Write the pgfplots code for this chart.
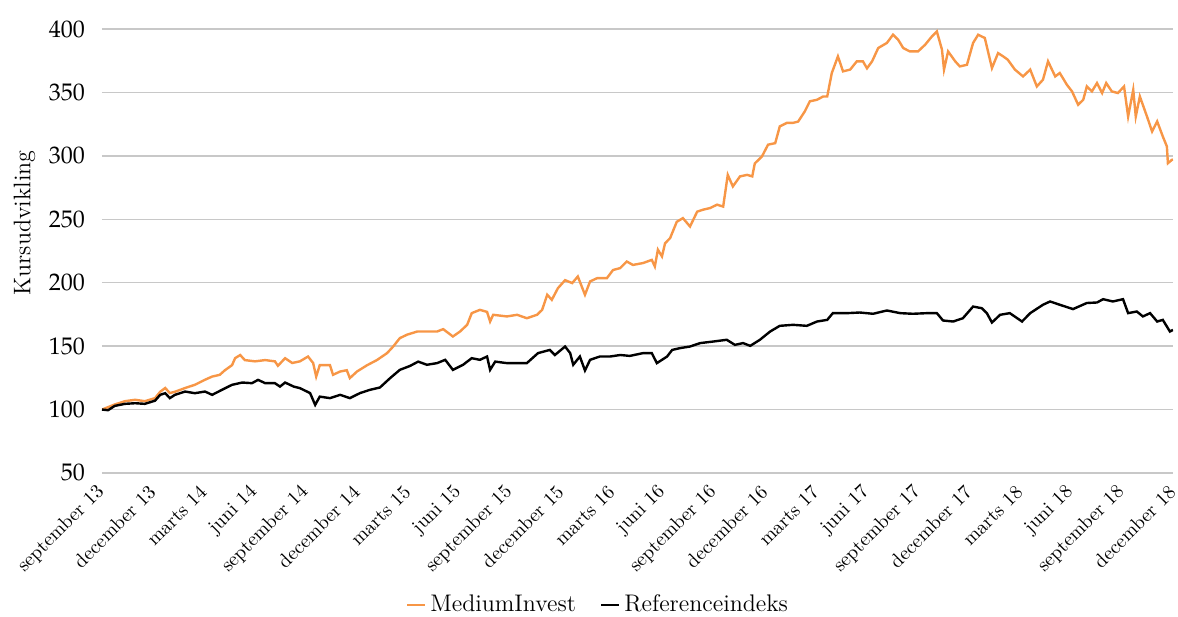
\documentclass[border=0pt]{standalone}
\usepackage{mathpazo}
\usepackage{pgfplots}
\pgfplotsset{compat=1.18}
\definecolor{mediumorange}{RGB}{247,150,70}
\definecolor{gridgray}{RGB}{200,200,200}
\begin{document}
\begin{tikzpicture}
\begin{axis}[
  name=ax,
  scale only axis,
  width=535.5pt, height=222pt,
  xmin=0, xmax=21, ymin=50, ymax=400,
  axis line style={draw=none},
  ytick={50,100,...,400},
  ymajorgrids, grid style={gridgray, line width=0.7pt},
  major tick length=0pt,
  xtick={0,...,21},
  xticklabels={september 13,december 13,marts 14,juni 14,september 14,december 14,marts 15,juni 15,september 15,december 15,marts 16,juni 16,september 16,december 16,marts 17,juni 17,september 17,december 17,marts 18,juni 18,september 18,december 18},
  xticklabel style={rotate=45, anchor=east, font=\fontsize{9.8}{11}\selectfont, yshift=-5.4pt, xshift=-2.4pt},
  yticklabel style={font=\large, xshift=-5pt},
  ylabel={Kursudvikling},
  ylabel style={font=\large, at={(ticklabel cs:0.563)}},
  legend style={at={(0.464,-0.297)}, anchor=center, draw=none, legend columns=2, font=\large,
    /tikz/every even column/.append style={column sep=10pt}},
  legend image code/.code={\draw[#1, line width=1.2pt] (0pt,0pt) -- (9pt,0pt);},
]
\addplot[mediumorange, line width=1.2pt] coordinates {
(0,100)(0.25,104)(0.45,106.6)(0.65,107.7)(0.84,106.6)(1.04,109)(1.14,114)(1.24,117)(1.33,113)(1.43,114)
(1.63,117)(1.82,119.5)(2.02,123.5)(2.16,126)(2.31,127.4)(2.41,131)(2.55,135)(2.61,140.5)(2.71,143)(2.80,139)
(3.00,138)(3.20,139)(3.39,138)(3.45,134.5)(3.59,140.5)(3.73,136.7)(3.88,138)(4.04,141.8)(4.14,136.7)(4.20,126)
(4.27,135)(4.47,135)(4.53,127.4)(4.67,130)(4.80,131)(4.86,124.8)(5.00,130)(5.20,135)(5.39,139)(5.59,144.5)
(5.71,149.7)(5.84,156.3)(5.98,159)(6.18,161.5)(6.37,161.5)(6.57,161.5)(6.69,163.4)(6.88,157.6)(7.02,161.5)(7.16,166.8)
(7.25,176)(7.41,178.6)(7.55,177)(7.61,169.4)(7.67,174.7)(7.94,173.4)(8.14,174.7)(8.33,172)(8.53,174.7)(8.63,178.6)
(8.73,190.5)(8.82,186.5)(8.94,195.7)(9.08,202)(9.22,199.7)(9.33,204.9)(9.47,190.5)(9.57,201)(9.71,203.6)(9.90,203.6)
(10.02,210)(10.16,211.5)(10.29,216.7)(10.41,214)(10.61,215.5)(10.78,218)(10.84,212.8)(10.90,226)(10.98,220.7)(11.04,231)
(11.14,235.2)(11.27,248)(11.39,250.9)(11.53,244.3)(11.67,256)(11.78,257.5)(11.92,258.8)(12.06,261.5)(12.18,260)(12.27,285)
(12.37,275.9)(12.51,283.8)(12.65,285)(12.75,283.8)(12.80,294)(12.94,299.5)(13.06,308.8)(13.20,310)(13.29,323.2)(13.43,326)
(13.55,326)(13.65,327)(13.78,335)(13.88,343)(14.02,344.2)(14.14,346.8)(14.22,346.8)(14.31,365.3)(14.43,378.4)(14.53,366.6)
(14.67,368)(14.80,374.5)(14.92,374.5)(15.00,369)(15.10,374.5)(15.22,385)(15.39,389)(15.51,395.5)(15.61,391.6)(15.71,385)
(15.84,382.3)(16.00,382.3)(16.14,387.6)(16.27,394)(16.37,398)(16.47,383.7)(16.51,368)(16.59,382.3)(16.73,374.5)(16.82,370.5)
(16.96,371.8)(17.08,389)(17.18,395.5)(17.31,392.9)(17.45,369.2)(17.57,381)(17.67,378.4)(17.76,375.8)(17.90,368)(18.06,362.6)
(18.20,368)(18.33,354.7)(18.45,360)(18.55,374.5)(18.69,362.6)(18.78,365.3)(18.92,356)(19.02,350.8)(19.14,340.3)(19.24,344.2)
(19.31,354.7)(19.41,350.8)(19.51,357.4)(19.61,349.5)(19.69,357.4)(19.80,350.8)(19.92,349.5)(20.04,354.7)(20.12,331)(20.22,352)
(20.27,331)(20.35,346.8)(20.49,331)(20.59,319.2)(20.69,327.1)(20.80,315.3)(20.88,307.4)(20.90,294.2)(20.98,296.9)(21.00,297)
};
\addlegendentry{MediumInvest}
\addplot[black, line width=1.2pt] coordinates {
(0,100)(0.12,99.5)(0.25,102.9)(0.45,104.5)(0.65,105)(0.84,104.5)(1.04,107)(1.14,111.6)(1.24,112.9)(1.33,109)
(1.43,111.6)(1.63,114.2)(1.82,112.9)(2.02,114.2)(2.16,111.6)(2.35,115.5)(2.55,119.5)(2.75,121.3)(2.94,120.8)(3.06,123.4)
(3.20,120.8)(3.39,120.8)(3.49,118.1)(3.59,121.3)(3.76,118.1)(3.88,116.9)(4.08,113)(4.18,103.7)(4.27,110.2)(4.47,109)
(4.67,111.6)(4.86,109)(5.06,113)(5.25,115.5)(5.45,117.4)(5.65,124.8)(5.84,131.3)(6.04,134.4)(6.20,137.8)(6.37,135.3)
(6.57,136.6)(6.73,139.2)(6.88,131.3)(7.08,135.3)(7.25,140.5)(7.41,139.2)(7.55,141.8)(7.61,131.3)(7.71,137.8)(7.94,136.6)
(8.14,136.6)(8.33,136.6)(8.55,144.5)(8.78,147)(8.88,143)(9.08,149.7)(9.18,144.5)(9.24,135.3)(9.37,141.8)(9.47,130.8)
(9.57,139.2)(9.76,141.8)(9.96,141.8)(10.16,143)(10.35,142.3)(10.61,144.5)(10.78,144.5)(10.88,136.6)(10.98,139.2)(11.08,141.8)
(11.18,147)(11.33,148.4)(11.53,149.7)(11.73,152.4)(11.98,153.6)(12.25,155)(12.41,151)(12.57,152.4)(12.71,150.2)(12.90,155)
(13.10,161.5)(13.29,166)(13.55,166.8)(13.82,166)(14.02,169.4)(14.22,170.7)(14.33,176)(14.61,176)(14.86,176.5)(15.12,175.5)
(15.39,178.1)(15.65,176)(15.90,175.5)(16.18,176)(16.37,176)(16.49,170.2)(16.69,169.4)(16.88,172)(17.08,181.2)(17.25,179.9)
(17.35,176)(17.45,168.6)(17.61,174.7)(17.80,176)(18.04,169.4)(18.20,176)(18.45,182.6)(18.59,185.2)(18.78,182.6)(19.04,179.2)
(19.31,184)(19.51,184.4)(19.63,187)(19.82,185.2)(20.02,187)(20.12,176)(20.29,177.3)(20.41,173.4)(20.55,176)(20.69,169.4)
(20.80,170.7)(20.94,161.5)(21.00,162.8)
};
\addlegendentry{Referenceindeks}
\end{axis}
\pgfresetboundingbox
\path[use as bounding box] ([shift={(-51pt,-72pt)}]ax.south west) rectangle ([shift={(2.5pt,14.5pt)}]ax.north east);
\end{tikzpicture}
\end{document}
